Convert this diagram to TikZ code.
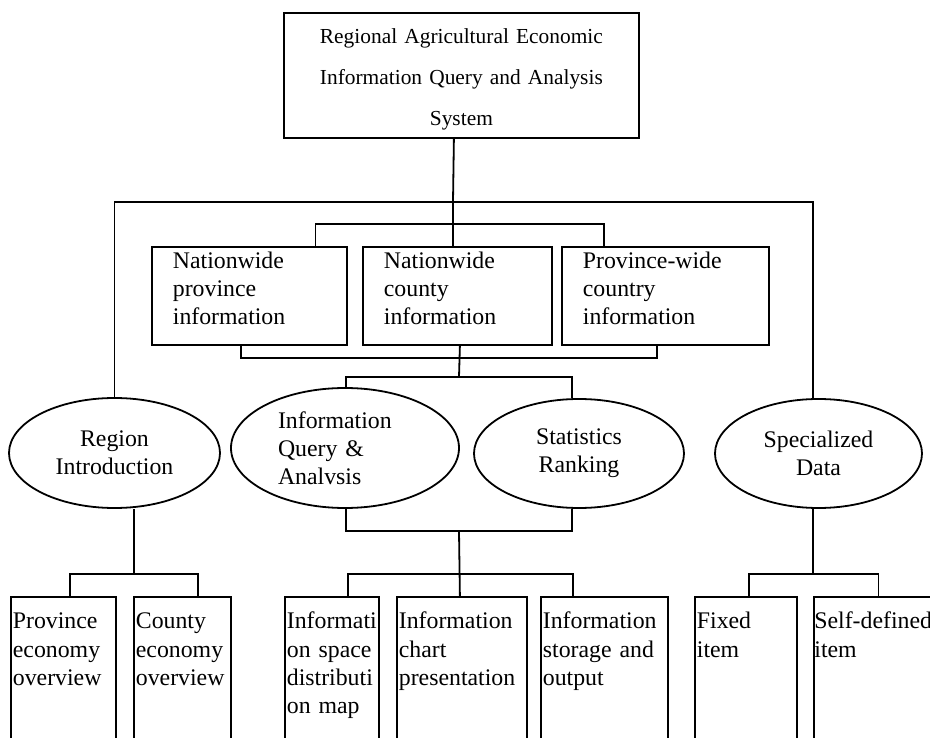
\documentclass[tikz,border=0pt]{standalone}
\usepackage{fontspec}
\setmainfont{Liberation Serif}
\usetikzlibrary{shapes.geometric}
\hyphenpenalty=10000
\exhyphenpenalty=10000

\begin{document}
\begin{tikzpicture}[x=1pt, y=-1pt, line width=1.8pt,
		topbox/.style={draw, anchor=north west, align=center, text width=355pt, inner sep=0pt, text height=31pt, text depth=94pt, font=\fontsize{21.4}{41}\selectfont},
		midbox/.style={draw, anchor=north west, align=left, inner xsep=21pt, inner ysep=0pt, text height=22pt, text depth=76pt, font=\fontsize{23.8}{28}\selectfont},
		oval/.style={draw, ellipse, inner sep=0pt, align=center, font=\fontsize{23.8}{28}\selectfont},
		leafbox/.style={draw, anchor=north west, align=left, inner xsep=2pt, inner ysep=0pt, text height=32pt, text depth=200pt, font=\fontsize{23.8}{28.3}\selectfont}]

		\useasboundingbox (0,0) rectangle (930,738);
		\clip (0,0) rectangle (930,738);

		\node[topbox] (sys) at (283,12) {Regional Agricultural Economic\\Information Query and Analysis\\System};

		\node[midbox, text width=153pt] (np) at (151,246) {Nationwide\\province\\information};
		\node[midbox, text width=147pt] (nc) at (362,246) {Nationwide\\county\\information};
		\node[midbox, text width=165pt] (pc) at (561,246) {Province-wide\\country\\information};

		\node[oval, minimum width=211pt, minimum height=110pt] (ri) at (114.5,453) {Region\\Introduction};
		\node[oval, minimum width=228pt, minimum height=120pt, text width=134pt, align=left] (iq) at (345,448) {Information\\Query \&\\Analvsis};
		\node[oval, minimum width=210pt, minimum height=109pt] (sr) at (579,453.5) {Statistics\\Ranking};
		\node[oval, minimum width=207pt, minimum height=109pt] (sd) at (818.5,453.5) {Specialized\\Data};

		\node[leafbox, text width=101pt] (pe) at (10,596) {Province\\economy\\overview};
		\node[leafbox, text width=93pt] (ce) at (133,596) {County\\economy\\overview};
		\node[leafbox, text width=90pt] (is) at (284,596) {Informati\\on space\\distributi\\on map};
		\node[leafbox, text width=126pt] (ic) at (396,596) {Information\\chart\\presentation};
		\node[leafbox, text width=123pt] (st) at (540,596) {Information\\storage and\\output};
		\node[leafbox, text width=98pt] (fi) at (694,596) {Fixed\\item};
		\node[leafbox, text width=126pt, inner xsep=0.5pt] (sf) at (813,596) {Self-defined\\item};

		\coordinate (bus) at (453,202);
		\coordinate (j1) at (459,377);
		\coordinate (j2) at (459,531);
		\coordinate (j3) at (459,574);
		\coordinate (j4) at (134,574);
		\coordinate (j5) at (813,574);

		\draw ([xshift=-7.5]sys.south) -- (bus) -- (bus |- nc.north); %Tronco
		\draw (ri.north) |- (bus) -| ([xshift=-5.5]sd.north);

		\draw ([xshift=66]np.north) -- ++(0,-22) -| ([xshift=-61.5]pc.north);
		\draw ([xshift=-8.5]np.south) -- ++(0,12) -| ([xshift=-8.5]pc.south);
		\draw ([xshift=2.5]nc.south) -- (j1);

		\draw ([xshift=1]iq.north) |- (j1) -| ([xshift=-7]sr.north);
		\draw ([xshift=1]iq.south) |- (j2) -| ([xshift=-7]sr.south);
		\draw (j2) -- ([xshift=-2]ic.north);
		\draw ([xshift=16]is.north) |- (j3) -| ([xshift=-31.5]st.north);

		\draw ([xshift=19.5]ri.south) -- (j4); %Regione
		\draw ([xshift=6.5]pe.north) |- (j4) -| ([xshift=15.5]ce.north);

		\draw ([xshift=-5.5]sd.south) -- (j5); %Dati
		\draw ([xshift=3]fi.north) |- (j5) -| ([xshift=1]sf.north);

	\end{tikzpicture}
\end{document}
